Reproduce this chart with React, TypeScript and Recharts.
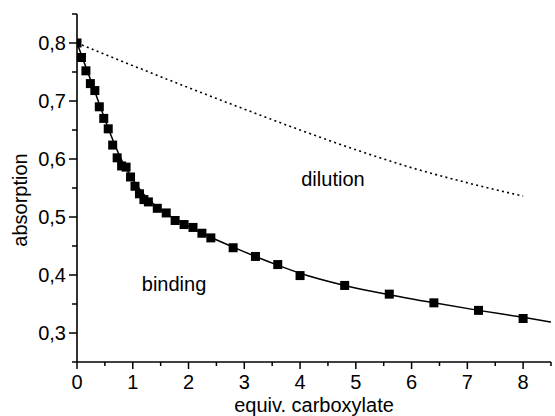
import { ComposedChart, Line, Scatter, XAxis, YAxis, ReferenceDot, Label } from 'recharts'

const bindingX = [0, 0.08, 0.16, 0.24, 0.32, 0.4, 0.48, 0.56, 0.64, 0.72, 0.8, 0.88, 0.96, 1.04, 1.12, 1.2, 1.28, 1.44, 1.6, 1.76, 1.92, 2.08, 2.24, 2.4, 2.8, 3.2, 3.6, 4.0, 4.8, 5.6, 6.4, 7.2, 8.0]
const bindingY = [0.8, 0.775, 0.752, 0.73, 0.718, 0.69, 0.67, 0.652, 0.624, 0.602, 0.588, 0.586, 0.569, 0.553, 0.54, 0.53, 0.526, 0.515, 0.507, 0.494, 0.487, 0.482, 0.472, 0.464, 0.447, 0.432, 0.418, 0.399, 0.382, 0.367, 0.352, 0.339, 0.325]

const fitX = [0, 0.2, 0.4, 0.6, 0.8, 1.0, 1.2, 1.4, 1.6, 1.8, 2.0, 2.4, 2.8, 3.2, 3.6, 4.0, 4.8, 5.6, 6.4, 7.2, 8.0, 8.5]
const fitY = [0.8, 0.748, 0.695, 0.643, 0.598, 0.565, 0.539, 0.52, 0.506, 0.494, 0.484, 0.465, 0.448, 0.432, 0.417, 0.403, 0.382, 0.366, 0.352, 0.339, 0.327, 0.319]

const dilutionX = [0, 1, 2, 3, 4, 5, 6, 7, 8]
const dilutionY = [0.8, 0.761, 0.723, 0.686, 0.65, 0.616, 0.585, 0.559, 0.536]

const xTicks = [0, 0.5, 1, 1.5, 2, 2.5, 3, 3.5, 4, 4.5, 5, 5.5, 6, 6.5, 7, 7.5, 8, 8.5]
const yTicks = [0.25, 0.3, 0.35, 0.4, 0.45, 0.5, 0.55, 0.6, 0.65, 0.7, 0.75, 0.8, 0.85]

const binding = bindingX.map((x, i) => ({ x, y: bindingY[i] }))
const fit = fitX.map((x, i) => ({ x, y: fitY[i] }))
const dilution = dilutionX.map((x, i) => ({ x, y: dilutionY[i] }))

const font = '"Liberation Sans", Arial, Helvetica, sans-serif'

function XTick(props: any) {
  const { x, y, payload } = props
  const v = payload.value
  const major = Number.isInteger(v)
  return (
    <g>
      <line x1={x} x2={x} y1={y} y2={y + (major ? 7 : 4)} stroke="#000" strokeWidth={1.5} />
      {major && (
        <text x={x} y={y + 27} textAnchor="middle" fontSize={20} fontFamily={font} fill="#000">
          {v}
        </text>
      )}
    </g>
  )
}

function YTick(props: any) {
  const { x, y, payload } = props
  const v = payload.value
  const major = Math.abs(v * 10 - Math.round(v * 10)) < 1e-6
  return (
    <g>
      <line x1={x - (major ? 8 : 5)} x2={x} y1={y} y2={y} stroke="#000" strokeWidth={1.5} />
      {major && (
        <text x={x - 11} y={y + 7} textAnchor="end" fontSize={20} fontFamily={font} fill="#000">
          {v.toFixed(1).replace('.', ',')}
        </text>
      )}
    </g>
  )
}

function Square(props: any) {
  const { cx, cy } = props
  return <rect x={cx - 4.5} y={cy - 4.5} width={9} height={9} fill="#000" />
}

function YTitle(props: any) {
  const vb = props.viewBox || { x: 0, y: 14, width: 77, height: 348 }
  const cx = vb.x + 27
  const cy = vb.y + vb.height / 2 + 12
  return (
    <text x={cx} y={cy} transform={`rotate(-90, ${cx}, ${cy})`} textAnchor="middle" fontSize={20} fontFamily={font} fill="#000">
      absorption
    </text>
  )
}

export default function App() {
  return (
    <div style={{ position: 'absolute', left: 0, top: 0, width: 555, height: 416, background: '#fff' }}>
      <ComposedChart width={555} height={416} margin={{ top: 14, right: 4, left: 0, bottom: 0 }}>
        <XAxis
          dataKey="x"
          type="number"
          domain={[0, 8.5]}
          ticks={xTicks}
          interval={0}
          height={54}
          tickSize={0}
          tickMargin={0}
          tickLine={false}
          tick={<XTick />}
          axisLine={{ stroke: '#000', strokeWidth: 1.6 }}
          allowDataOverflow
        >
          <Label value="equiv. carboxylate" position="insideBottom" offset={4} fontSize={20} fontFamily={font} fill="#000" />
        </XAxis>
        <YAxis
          type="number"
          domain={[0.25, 0.85]}
          ticks={yTicks}
          interval={0}
          width={77}
          tickSize={0}
          tickMargin={0}
          tickLine={false}
          tick={<YTick />}
          axisLine={{ stroke: '#000', strokeWidth: 1.6 }}
          allowDataOverflow
        >
          <Label content={<YTitle />} />
        </YAxis>
        <Line
          data={dilution}
          dataKey="y"
          type="monotone"
          stroke="#000"
          strokeWidth={1.6}
          strokeDasharray="2 3.3"
          dot={false}
          activeDot={false}
          isAnimationActive={false}
        />
        <Line
          data={fit}
          dataKey="y"
          type="monotone"
          stroke="#000"
          strokeWidth={1.5}
          dot={false}
          activeDot={false}
          isAnimationActive={false}
        />
        <Scatter data={binding} dataKey="y" shape={<Square />} isAnimationActive={false} />
        <ReferenceDot
          x={1.74}
          y={0.384}
          r={0}
          fill="none"
          stroke="none"
          label={{ value: 'binding', position: 'center', fontSize: 20, fontFamily: font, fill: '#000' }}
        />
        <ReferenceDot
          x={4.59}
          y={0.565}
          r={0}
          fill="none"
          stroke="none"
          label={{ value: 'dilution', position: 'center', fontSize: 20, fontFamily: font, fill: '#000' }}
        />
      </ComposedChart>
    </div>
  )
}
